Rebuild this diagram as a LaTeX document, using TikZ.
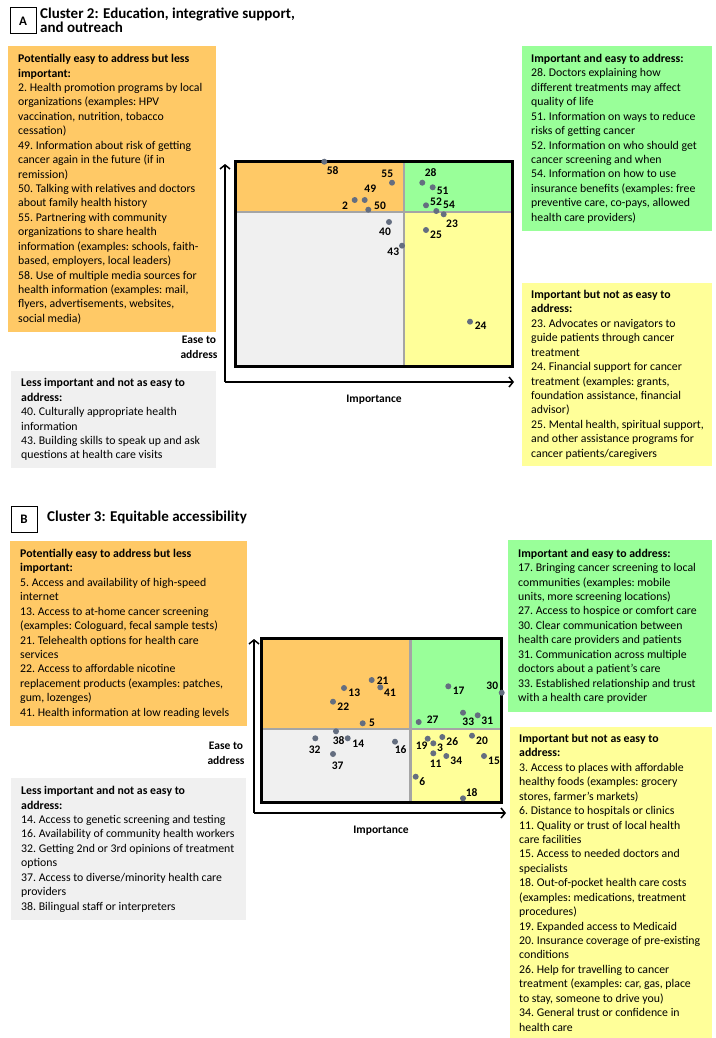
\documentclass[tikz,border=0pt]{standalone}
\usepackage{fontspec}
\setmainfont{Carlito}
\usetikzlibrary{arrows.meta,positioning}
\definecolor{easyorange}{RGB}{255,201,102}
\definecolor{impgreen}{RGB}{153,255,153}
\definecolor{hardyellow}{RGB}{255,255,153}
\definecolor{lessgray}{RGB}{240,240,240}
\definecolor{dotgray}{RGB}{100,110,128}
\definecolor{divgray}{RGB}{165,165,165}
\tikzset{
  listbox/.style={anchor=north west,inner sep=0pt},
  listtext/.style={anchor=west,align=left,inner sep=0pt,font=\fontsize{11.8}{14.43}\selectfont,execute at begin node=\frenchspacing},
  tagbox/.style={draw,line width=1pt,minimum size=26pt,inner sep=0pt,font=\fontsize{13}{13}\selectfont\bfseries},
  paneltitle/.style={anchor=north west,align=left,inner sep=0pt,font=\fontsize{15}{13.5}\selectfont\bfseries},
  axistitle/.style={align=center,inner sep=0pt,font=\fontsize{11.5}{14.5}\selectfont\bfseries},
  pt/.style={circle,fill=dotgray,inner sep=0pt,minimum size=6pt},
  num/.style={inner sep=0pt,font=\fontsize{11.5}{12}\selectfont\bfseries},
  axis/.style={line width=1.5pt,-{Straight Barb[length=4pt,width=10pt,line width=1.5pt]}},
  divider/.style={draw=divgray,line width=2.5pt},
  frame/.style={draw=black,line width=3pt}
}

\begin{document}
\begin{tikzpicture}[x=1pt,y=-1pt]
    \useasboundingbox (0,0) rectangle (715,1038);

    \node[tagbox] (taga) at (23,21) {A};
    \node[paneltitle] (titlea) at (40,8) {Cluster 2: Education, integrative support,\\and outreach};

    \node[listbox,fill=easyorange,minimum width=208pt,minimum height=286pt] (easya) at (8,46) {};
    \node[listtext] (easyatext) at ([xshift=10pt]easya.west) {\textbf{Potentially easy to address but less}\\
\textbf{important:}\\
2. Health promotion programs by local\\
organizations (examples: HPV\\
vaccination, nutrition, tobacco\\
cessation)\\
49. Information about risk of getting\\
cancer again in the future (if in\\
remission)\\
50. Talking with relatives and doctors\\
about family health history\\
55. Partnering with community\\
organizations to share health\\
information (examples: schools, faith-\\
based, employers, local leaders)\\
58. Use of multiple media sources for\\
health information (examples: mail,\\
flyers, advertisements, websites,\\
social media)};

    \node[listbox,fill=lessgray,minimum width=205pt,minimum height=97pt] (lessa) at (11,371) {};
    \node[listtext] (lessatext) at ([xshift=10pt]lessa.west) {\textbf{Less important and not as easy to}\\
\textbf{address:}\\
40. Culturally appropriate health\\
information\\
43. Building skills to speak up and ask\\
questions at health care visits};

    \node[listbox,fill=impgreen,minimum width=190pt,minimum height=185pt] (greena) at (522,46) {};
    \node[listtext] (greenatext) at ([xshift=9pt]greena.west) {\textbf{Important and easy to address:}\\
28. Doctors explaining how\\
different treatments may affect\\
quality of life\\
51. Information on ways to reduce\\
risks of getting cancer\\
52. Information on who should get\\
cancer screening and when\\
54. Information on how to use\\
insurance benefits (examples: free\\
preventive care, co-pays, allowed\\
health care providers)};

    \node[listbox,fill=hardyellow,minimum width=190pt,minimum height=183pt] (yellowa) at (522,283) {};
    \node[listtext] (yellowatext) at ([xshift=9pt]yellowa.west) {\textbf{Important but not as easy to}\\
\textbf{address:}\\
23. Advocates or navigators to\\
guide patients through cancer\\
treatment\\
24. Financial support for cancer\\
treatment (examples: grants,\\
foundation assistance, financial\\
advisor)\\
25. Mental health, spiritual support,\\
and other assistance programs for\\
cancer patients/caregivers};

    \fill[easyorange] (235,161) rectangle (404,212);
    \fill[impgreen] (404,161) rectangle (512,212);
    \fill[lessgray] (235,212) rectangle (404,366);
    \fill[hardyellow] (404,212) rectangle (512,366);
    \draw[divider] (235,212) -- (512,212);
    \draw[divider] (404,161) -- (404,366);
    \draw[frame] (235,161) rectangle (512,366);

    \coordinate (origina) at (225,382);
    \coordinate (yenda) at (225,164);
    \coordinate (xenda) at (514,382);
    \draw[axis] (origina) -- (yenda);
    \draw[axis] (origina) -- (xenda);
    \node[axistitle] (easelabela) at (199,347.5) {Ease to\\address};
    \node[axistitle] (implabela) at (374,400) {Importance};

    \node[pt] (a58) at (324.3,161.7) {};
    \node[num] (a58lab) at (332.7,171) {58};
    \node[pt] (a55) at (392,182.7) {};
    \node[num] (a55lab) at (387.3,174) {55};
    \node[pt] (a49) at (364.7,200) {};
    \node[num] (a49lab) at (370.3,189) {49};
    \node[pt] (a2) at (354.7,200) {};
    \node[num] (a2lab) at (345,205.7) {2};
    \node[pt] (a50) at (368.3,209.7) {};
    \node[num] (a50lab) at (380,205.7) {50};
    \node[pt] (a28) at (422.3,182.7) {};
    \node[num] (a28lab) at (430.7,173) {28};
    \node[pt] (a51) at (432.7,187.3) {};
    \node[num] (a51lab) at (442.7,191.3) {51};
    \node[pt] (a52) at (426,205.3) {};
    \node[num] (a52lab) at (436,202) {52};
    \node[pt] (a54) at (436.3,211) {};
    \node[num] (a54lab) at (449,205.3) {54};
    \node[pt] (a23) at (443.7,214.3) {};
    \node[num] (a23lab) at (452,224) {23};
    \node[pt] (a25) at (426,230) {};
    \node[num] (a25lab) at (436,234.3) {25};
    \node[pt] (a40) at (389,222) {};
    \node[num] (a40lab) at (385,231.3) {40};
    \node[pt] (a43) at (402,245.7) {};
    \node[num] (a43lab) at (393.3,251.3) {43};
    \node[pt] (a24) at (470,321.7) {};
    \node[num] (a24lab) at (480.7,325.7) {24};

    \node[tagbox] (tagb) at (24,519) {B};
    \node[paneltitle] (titleb) at (47,511) {Cluster 3: Equitable accessibility};

    \node[listbox,fill=easyorange,minimum width=237pt,minimum height=185pt] (easyb) at (10,541) {};
    \node[listtext] (easybtext) at ([xshift=10pt]easyb.west) {\textbf{Potentially easy to address but less}\\
\textbf{important:}\\
5. Access and availability of high-speed\\
internet\\
13. Access to at-home cancer screening\\
(examples: Cologuard, fecal sample tests)\\
21. Telehealth options for health care\\
services\\
22. Access to affordable nicotine\\
replacement products (examples: patches,\\
gum, lozenges)\\
41. Health information at low reading levels};

    \node[listbox,fill=lessgray,minimum width=235pt,minimum height=142pt] (lessb) at (11,778) {};
    \node[listtext] (lessbtext) at ([xshift=10pt]lessb.west) {\textbf{Less important and not as easy to}\\
\textbf{address:}\\
14. Access to genetic screening and testing\\
16. Availability of community health workers\\
32. Getting 2nd or 3rd opinions of treatment\\
options\\
37. Access to diverse/minority health care\\
providers\\
38. Bilingual staff or interpreters};

    \node[listbox,fill=impgreen,minimum width=204pt,minimum height=172pt] (greenb) at (508,540) {};
    \node[listtext] (greenbtext) at ([xshift=10pt]greenb.west) {\textbf{Important and easy to address:}\\
17. Bringing cancer screening to local\\
communities (examples: mobile\\
units, more screening locations)\\
27. Access to hospice or comfort care\\
30. Clear communication between\\
health care providers and patients\\
31. Communication across multiple\\
doctors about a patient's care\\
33. Established relationship and trust\\
with a health care provider};

    \node[listbox,fill=hardyellow,minimum width=202pt,minimum height=311pt] (yellowb) at (510,727) {};
    \node[listtext] (yellowbtext) at ([xshift=9pt]yellowb.west) {\textbf{Important but not as easy to}\\
\textbf{address:}\\
3. Access to places with affordable\\
healthy foods (examples: grocery\\
stores, farmer's markets)\\
6. Distance to hospitals or clinics\\
11. Quality or trust of local health\\
care facilities\\
15. Access to needed doctors and\\
specialists\\
18. Out-of-pocket health care costs\\
(examples: medications, treatment\\
procedures)\\
19. Expanded access to Medicaid\\
20. Insurance coverage of pre-existing\\
conditions\\
26. Help for travelling to cancer\\
treatment (examples: car, gas, place\\
to stay, someone to drive you)\\
34. General trust or confidence in\\
health care};

    \fill[easyorange] (261.7,638.3) rectangle (410.7,729);
    \fill[impgreen] (410.7,638.3) rectangle (501.7,729);
    \fill[lessgray] (261.7,729) rectangle (410.7,802.3);
    \fill[hardyellow] (410.7,729) rectangle (501.7,802.3);
    \draw[divider] (261.7,729) -- (501.7,729);
    \draw[divider] (410.7,638.3) -- (410.7,802.3);
    \draw[frame] (261.7,638.3) rectangle (501.7,802.3);

    \coordinate (originb) at (254,813);
    \coordinate (yendb) at (254,639);
    \coordinate (xendb) at (506,813);
    \draw[axis] (originb) -- (yendb);
    \draw[axis] (originb) -- (xendb);
    \node[axistitle] (easelabelb) at (226,753.5) {Ease to\\address};
    \node[axistitle] (implabelb) at (381,831) {Importance};

    \node[pt] (b21) at (371.7,680) {};
    \node[num] (b21lab) at (382.7,680.3) {21};
    \node[pt] (b13) at (344,688) {};
    \node[num] (b13lab) at (354.3,692.3) {13};
    \node[pt] (b41) at (380.3,687.3) {};
    \node[num] (b41lab) at (390,692.3) {41};
    \node[pt] (b22) at (333,701.7) {};
    \node[num] (b22lab) at (343.3,706.7) {22};
    \node[pt] (b5) at (362.7,723.3) {};
    \node[num] (b5lab) at (372,723.3) {5};
    \node[pt] (b17) at (448.3,686.3) {};
    \node[num] (b17lab) at (458.7,691) {17};
    \node[pt] (b30) at (501.7,692.7) {};
    \node[num] (b30lab) at (492.3,686) {30};
    \node[pt] (b27) at (418.7,722) {};
    \node[num] (b27lab) at (432.7,719.3) {27};
    \node[pt] (b33) at (463,712.7) {};
    \node[num] (b33lab) at (468.3,721.7) {33};
    \node[pt] (b31) at (477.7,715.3) {};
    \node[num] (b31lab) at (487.3,720.3) {31};
    \node[pt] (b32) at (315.3,738.3) {};
    \node[num] (b32lab) at (314.7,750) {32};
    \node[pt] (b38) at (336,731.3) {};
    \node[num] (b38lab) at (338.7,741) {38};
    \node[pt] (b14) at (347.7,738.3) {};
    \node[num] (b14lab) at (358.3,743.7) {14};
    \node[pt] (b37) at (333,754) {};
    \node[num] (b37lab) at (337.7,765.3) {37};
    \node[pt] (b16) at (395,741.7) {};
    \node[num] (b16lab) at (400.7,749.3) {16};
    \node[pt] (b19) at (427.7,738.7) {};
    \node[num] (b19lab) at (421.7,746) {19};
    \node[pt] (b3) at (433.3,743.3) {};
    \node[num] (b3lab) at (440,747.7) {3};
    \node[pt] (b26) at (442.3,737) {};
    \node[num] (b26lab) at (452.3,742) {26};
    \node[pt] (b20) at (472,735.7) {};
    \node[num] (b20lab) at (482,740.3) {20};
    \node[pt] (b11) at (433.3,753.3) {};
    \node[num] (b11lab) at (435.7,764) {11};
    \node[pt] (b34) at (446.3,756) {};
    \node[num] (b34lab) at (456.3,761) {34};
    \node[pt] (b15) at (484,756) {};
    \node[num] (b15lab) at (494,761) {15};
    \node[pt] (b6) at (415.7,776.7) {};
    \node[num] (b6lab) at (422.3,781.3) {6};
    \node[pt] (b18) at (463,798.3) {};
    \node[num] (b18lab) at (471.7,792.7) {18};
\end{tikzpicture}
\end{document}
